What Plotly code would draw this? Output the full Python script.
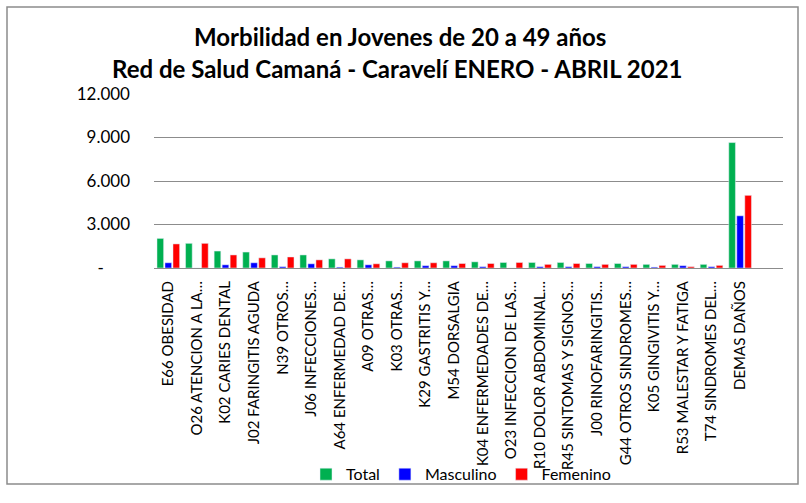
import plotly.graph_objects as go

# Categories (diagnoses) and counts
categorias = [
    'E66 OBESIDAD', 'O26 ATENCION A LA…', 'K02 CARIES DENTAL', 'J02 FARINGITIS AGUDA',
    'N39 OTROS…', 'J06 INFECCIONES…', 'A64 ENFERMEDAD DE…', 'A09 OTRAS…', 'K03 OTRAS…',
    'K29 GASTRITIS Y…', 'M54 DORSALGIA', 'K04 ENFERMEDADES DE…', 'O23 INFECCION DE LAS…',
    'R10 DOLOR ABDOMINAL…', 'R45 SINTOMAS Y SIGNOS…', 'J00 RINOFARINGITIS…',
    'G44 OTROS SINDROMES…', 'K05 GINGIVITIS Y…', 'R53 MALESTAR Y FATIGA',
    'T74 SINDROMES DEL…', 'DEMAS DAÑOS',
]
total = [2040, 1700, 1170, 1100, 900, 900, 630, 560, 490, 490, 490,
         425, 380, 380, 380, 310, 310, 250, 250, 250, 8650]
masculino = [360, 0, 220, 360, 90, 290, 60, 220, 60, 160, 160,
             90, 0, 90, 90, 90, 90, 60, 160, 90, 3600]
femenino = [1660, 1700, 900, 700, 760, 560, 630, 290, 360, 360, 310,
            310, 380, 250, 310, 250, 250, 180, 90, 180, 5010]

y_ticks = [0, 3000, 6000, 9000, 12000]
y_labels = ['-' + '\u00a0' * 6, '3.000', '6.000', '9.000', '12.000']

titulo_1 = 'Morbilidad en Jovenes de 20 a 49 años'
titulo_2 = 'Red de Salud Camaná - Caravelí ENERO - ABRIL 2021'

# Pixel geometry of the 806x503 picture
W, H = 806, 503
left, right, top, bottom = 154, 783, 94, 272
frame = dict(x0=7, x1=798, y0=5, y1=493)

font = 'Lato'

fig = go.Figure()
fig.add_trace(go.Bar(x=categorias, y=total, name='Total', marker_color='#00B050'))
fig.add_trace(go.Bar(x=categorias, y=masculino, name='Masculino', marker_color='#0000FF'))
fig.add_trace(go.Bar(x=categorias, y=femenino, name='Femenino', marker_color='#FF0000'))

pw = right - left
ph = bottom - top


def px_x(x):
    return (x - left) / pw


def px_y(y):
    return (bottom - y) / ph


fig.update_layout(
    width=W, height=H,
    margin=dict(l=left, r=W - right, t=top, b=H - bottom, pad=0),
    barmode='group', bargap=0.16, bargroupgap=0.17,
    paper_bgcolor='white', plot_bgcolor='white',
    font=dict(family=font, color='black'),
    legend=dict(
        orientation='h', x=px_x(461), xanchor='center',
        y=px_y(483), yanchor='middle',
        font=dict(size=16, family=font), bgcolor='rgba(0,0,0,0)',
    ),
    showlegend=True,
    shapes=[dict(
        type='rect', xref='paper', yref='paper',
        x0=px_x(frame['x0']), x1=px_x(frame['x1']),
        y0=px_y(frame['y1']), y1=px_y(frame['y0']),
        line=dict(color='#8c8c8c', width=1.5), fillcolor='rgba(0,0,0,0)',
        layer='below',
    )],
)

for texto, ypix, xpix in [(titulo_1, 35, 400), (titulo_2, 68, 397)]:
    fig.add_annotation(
        text='<b>' + texto + '</b>', xref='paper', yref='paper',
        x=px_x(xpix), y=px_y(ypix), xanchor='center', yanchor='middle',
        showarrow=False, font=dict(size=24, family=font, color='black'),
    )

fig.update_xaxes(
    type='category', range=[-0.5, 21.5], tickangle=-90,
    tickfont=dict(size=15, family=font), showgrid=False,
    showline=True, linecolor='#8c8c8c', linewidth=1, ticks='',
    ticklabelstandoff=6, automargin=False,
)
fig.update_yaxes(
    range=[0, 12000], tickvals=y_ticks, ticktext=y_labels,
    tickfont=dict(size=17, family=font), showgrid=True, gridcolor='#8c8c8c',
    gridwidth=1, zeroline=False, showline=False, ticks='', ticklabelstandoff=23,
    automargin=False,
)

# remove the default page margin so the figure sits at the window corner
page_js = ("document.body.style.margin='0';"
           "document.body.style.overflow='hidden';"
           "document.documentElement.style.overflow='hidden';")
fig.write_html('out.html', post_script=page_js,
               config={'displayModeBar': False})
